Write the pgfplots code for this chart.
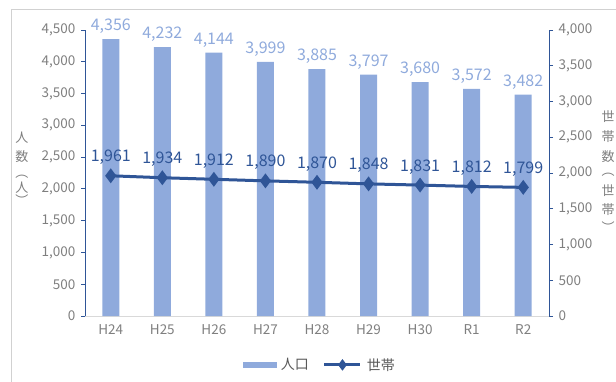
\documentclass[border=0pt]{standalone}
\usepackage{fontspec}
\setmainfont{Noto Sans CJK JP}
\usepackage{pgfplots}
\pgfplotsset{compat=1.18}
\definecolor{barblue}{HTML}{8FAADC}
\definecolor{lineblue}{HTML}{2F5597}
\definecolor{tickgray}{HTML}{7F7F7F}
\definecolor{textgray}{HTML}{595959}
\pgfplotsset{
  common/.style={
    at={(85pt,65pt)}, anchor=south west,
    scale only axis, width=464pt, height=286pt,
    xmin=-0.5, xmax=8.5, ymin=0,
    /pgf/number format/.cd, 1000 sep={,}, assume math mode=true, /pgfplots/.cd,
    tick label style={font=\fontsize{13.5}{13.5}\selectfont, text=tickgray},
    major tick length=4pt, tick align=outside,
    y axis line style={draw=lineblue, line width=1pt},
    ytick style={draw=lineblue, line width=0.8pt},
    xtick style={draw=none},
  },
  barleg/.style={legend image code/.code={\fill[barblue] (0pt,-2.5pt) rectangle (33pt,2.5pt);}},
  lineleg/.style={legend image code/.code={\draw[##1, mark=none] (0pt,0pt) -- (36pt,0pt); \draw[##1, line width=1pt] plot coordinates {(18pt,0pt)};}},
}
\begin{document}
\begin{tikzpicture}[x=1pt,y=1pt]
\path[use as bounding box] (0,0) rectangle (616,381);
\begin{scope}
\clip (0,0) rectangle (616,381);
\draw[black!18, line width=1pt] (11,-10) rectangle (640,371);
\end{scope}
\begin{axis}[common,
  ymax=4500, ytick={0,500,...,4500},
  xtick={0,...,8}, xticklabels={H24,H25,H26,H27,H28,H29,H30,R1,R2},
  axis y line*=left, axis x line*=bottom,
  x axis line style={draw=black!15, line width=1pt},
  xticklabel style={yshift=-1pt},
  yticklabel style={xshift=-2pt},
]
\addplot[ybar, bar width=17pt, fill=barblue, draw=none,
  nodes near coords,
  every node near coord/.append style={font=\fontsize{16}{16}\selectfont, text=barblue, yshift=2pt}]
  coordinates {(0,4356) (1,4232) (2,4144) (3,3999) (4,3885) (5,3797) (6,3680) (7,3572) (8,3482)};
\end{axis}
\begin{axis}[common,
  ymax=4000, ytick={0,500,...,4000},
  axis y line*=right, axis x line=none,
  yticklabel style={xshift=2pt},
  legend style={at={(0.506,-0.171)}, anchor=center, draw=none, fill=none,
    font=\fontsize{14}{14}\selectfont, text=textgray, legend columns=2,
    /tikz/every odd column/.append style={column sep=3pt},
    /tikz/every even column/.append style={column sep=12pt}},
]
\addlegendimage{barleg}
\addlegendentry{人口}
\addplot[lineblue, line width=3pt, mark=diamond*, mark size=5pt, lineleg,
  nodes near coords,
  every node near coord/.append style={font=\fontsize{16}{16}\selectfont, text=lineblue, yshift=6pt}]
  coordinates {(0,1961) (1,1934) (2,1912) (3,1890) (4,1870) (5,1848) (6,1831) (7,1812) (8,1799)};
\addlegendentry{世帯}
\end{axis}
\begin{scope}[every node/.style={font=\fontsize{13}{13}\selectfont, text=tickgray, inner sep=0pt}]
\node at (22,243) {人};
\node at (22,224) {数};
\node at (22,204) {︵};
\node at (22,193) {人};
\node at (22,181) {︶};
\node at (608,264) {世};
\node at (608,244) {帯};
\node at (608,224) {数};
\node at (608,206) {︵};
\node at (608,190) {世};
\node at (608,171) {帯};
\node at (608,154) {︶};
\end{scope}
\end{tikzpicture}
\end{document}
